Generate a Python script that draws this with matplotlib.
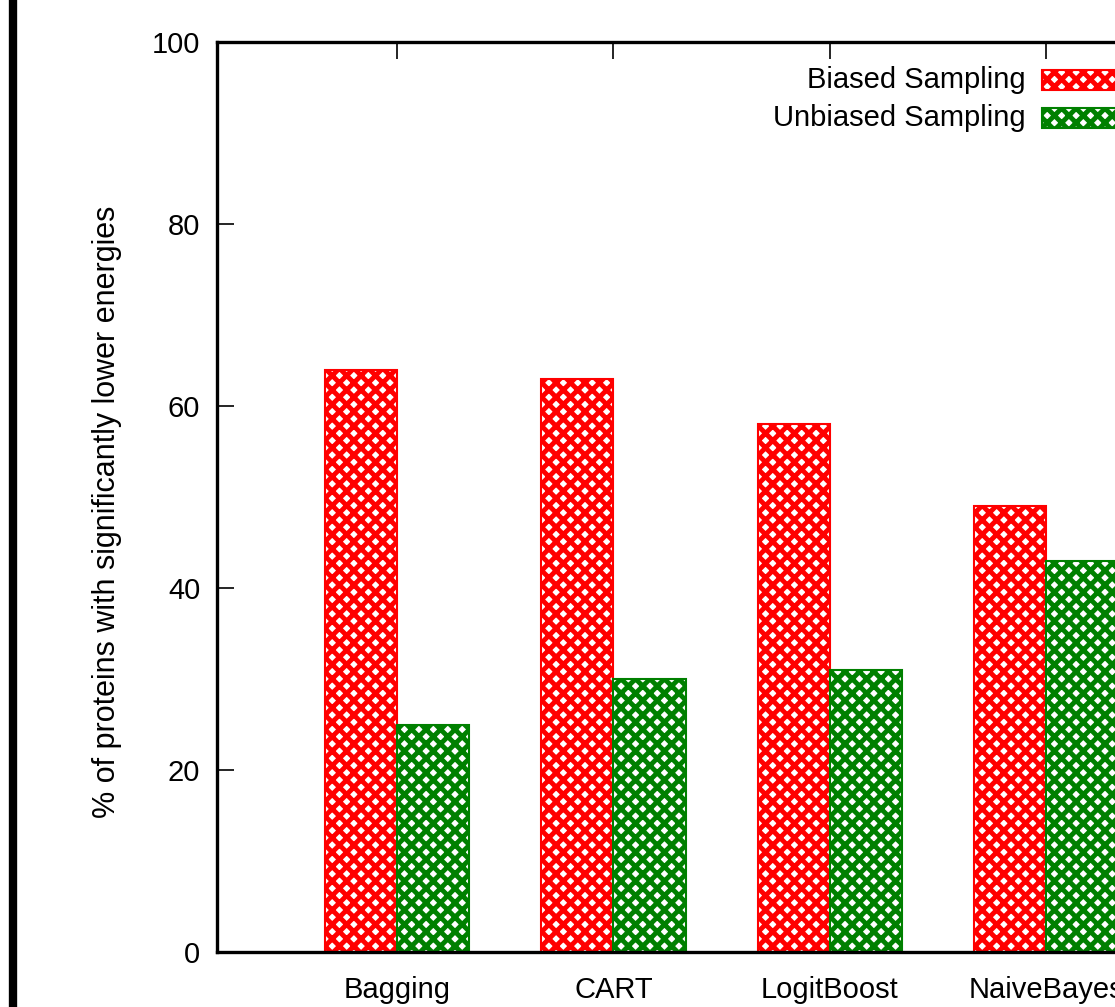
import matplotlib
matplotlib.use("Agg")
import matplotlib.pyplot as plt
import numpy as np
from matplotlib.patches import Rectangle
from matplotlib.lines import Line2D

categories = ["Bagging", "CART", "LogitBoost", "NaiveBayes"]
biased = [64, 63, 58, 49]
unbiased = [25, 30, 31, 43]
series_labels = ["Biased Sampling", "Unbiased Sampling"]
yticks = [0, 20, 40, 60, 80, 100]
ylabel = "% of proteins with significantly lower energies"

DPI = 130
def s(v):
    # convert sizes tuned for 100 dpi to the working dpi
    return v * 100 / DPI

plt.rcParams['font.family'] = ['Liberation Sans', 'DejaVu Sans']
plt.rcParams['hatch.linewidth'] = s(3.5)

W, H = 1115, 1007
fig = plt.figure(figsize=(W / DPI, H / DPI), dpi=DPI)

ax_left, ax_top, ax_bottom = 217, 42, 952
xmin, xmax = -0.831, 3.85
unit_px = 216.5
ax_w = (xmax - xmin) * unit_px
ax = fig.add_axes([ax_left / W, (H - ax_bottom) / H, ax_w / W, (ax_bottom - ax_top) / H])

x = np.arange(len(categories))
bw = 0.333
red = "#ff0000"
green = "#008000"
HATCH = "xxx"
ax.bar(x - bw / 2, biased, bw, facecolor="white", edgecolor=red, hatch=HATCH, linewidth=s(1.5), zorder=2)
ax.bar(x + bw / 2, unbiased, bw, facecolor="white", edgecolor=green, hatch=HATCH, linewidth=s(1.5), zorder=2)

ax.set_xlim(xmin, xmax)
ax.set_ylim(0, 100)
ax.set_yticks(yticks)
ax.set_xticks(x)
ax.set_xticklabels(categories)
ax.set_axisbelow(True)
ax.tick_params(axis="both", direction="in", length=s(12), width=s(1.2), labelsize=s(21), top=True, right=False)
ax.tick_params(axis="y", pad=s(12))
ax.tick_params(axis="x", pad=s(17))
for sp in ax.spines.values():
    sp.set_linewidth(s(2.4))
    sp.set_zorder(3)
ax.set_ylabel(ylabel, fontsize=s(22))
ax.yaxis.set_label_coords((122 - ax_left) / ax_w, (ax_bottom - 512) / (ax_bottom - ax_top))

tr = ax.transAxes
def px_to_axes(px, py):
    return ((px - ax_left) / ax_w, (ax_bottom - py) / (ax_bottom - ax_top))

for i, (lab, col) in enumerate(zip(series_labels, [red, green])):
    yc = 80 + i * 38
    tx, ty = px_to_axes(1026, yc)
    ax.text(tx, ty, lab, transform=tr, ha="right", va="center", fontsize=s(21))
    x0, y0 = px_to_axes(1042, yc + 10)
    x1, y1 = px_to_axes(1150, yc - 10)
    ax.add_patch(Rectangle((x0, y0), x1 - x0, y1 - y0, transform=tr, facecolor="white",
                           edgecolor=col, hatch=HATCH, linewidth=s(1.5), zorder=4, clip_on=False))

fig.add_artist(Line2D([12.5 / W, 12.5 / W], [0, 1], transform=fig.transFigure, color="black", linewidth=s(6)))

fig.savefig("out.png", dpi=DPI)
